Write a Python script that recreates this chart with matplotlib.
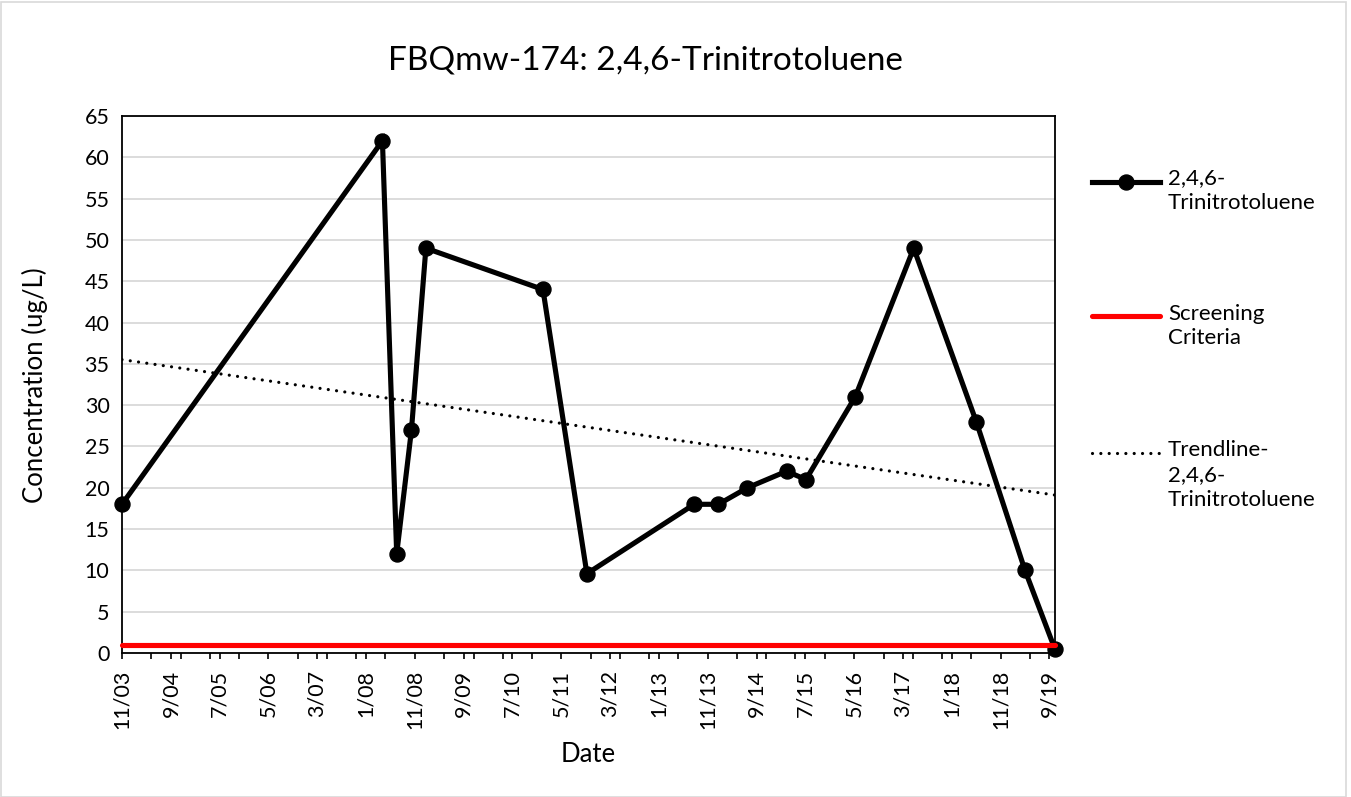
import matplotlib
matplotlib.use("Agg")
import matplotlib.pyplot as plt
import matplotlib.dates as mdates
from matplotlib.lines import Line2D
from matplotlib.patches import Rectangle
import numpy as np
import pandas as pd

plt.rcParams['font.family'] = ['Lato', 'DejaVu Sans']

# ---- data ----
dates = ["2003-11-15", "2008-04-26", "2008-07-24", "2008-10-24", "2009-01-22",
         "2011-01-22", "2011-10-23", "2013-08-22", "2014-01-20", "2014-07-20",
         "2015-03-21", "2015-07-20", "2016-05-22", "2017-05-22", "2018-06-16",
         "2019-04-16", "2019-10-20"]
values = [18, 62, 12, 27, 49, 44, 9.6, 18, 18, 20, 22, 21, 31, 49, 28, 10, 0.44]
screening_value = 1.0
series_label = "2,4,6-\nTrinitrotoluene"
screen_label = "Screening\nCriteria"
trend_label = "Trendline-\n2,4,6-\nTrinitrotoluene"
title = "FBQmw-174: 2,4,6-Trinitrotoluene"
y_ticks = list(range(0, 70, 5))

dt = pd.to_datetime(dates)
x = mdates.date2num(dt)
y = np.array(values)

W, H = 1351, 797
fig = plt.figure(figsize=(W / 100, H / 100), dpi=100)
ax = fig.add_axes([122 / W, 1 - 653 / H, (1055 - 122) / W, (653 - 116) / H])

TICK_FS = 15.5
TREND_STYLE = dict(color="black", linewidth=2.3, linestyle=(0, (0.01, 2.6)), dash_capstyle="round")

# gridlines
ax.set_ylim(0, 65)
ax.set_yticks(y_ticks)
ax.yaxis.grid(True, color="#d9d9d9", linewidth=1.3, zorder=0)
ax.set_axisbelow(True)
ax.tick_params(axis="y", length=0, labelsize=TICK_FS, pad=9)

# x axis
ax.set_xlim(x[0], x[-1])
first = dt[0]
majors = [first + pd.DateOffset(months=10 * k) for k in range(20)]
minors = [first + pd.DateOffset(months=6 * k) for k in range(33)]
minors = [m for m in minors if m <= dt[-1]]
ax.set_xticks(mdates.date2num(majors))
ax.set_xticklabels([f"{d.month}/{d.strftime('%y')}" for d in majors], rotation=90)
ax.set_xticks(mdates.date2num(minors), minor=True)
ax.tick_params(axis="x", which="major", length=4, width=1.2, direction="out", labelsize=TICK_FS, pad=8)
ax.tick_params(axis="x", which="minor", length=4, width=1.2, direction="out")

for s in ax.spines.values():
    s.set_color("black")
    s.set_linewidth(1.3)

# trendline (least squares)
coef = np.polyfit(x, y, 1)
tx = np.array([x[0], x[-1]])
ax.plot(tx, np.polyval(coef, tx), zorder=3, **TREND_STYLE)

# data series
ax.plot(x, y, color="black", linewidth=3.7, marker="o", markersize=10.8,
        zorder=4, clip_on=False, solid_joinstyle="miter")

# screening criteria
ax.plot([x[0], x[-1]], [screening_value, screening_value], color="#ff0000",
        linewidth=3.7, solid_capstyle="round", zorder=5, clip_on=False)

fig.text(645 / W, 1 - 60 / H, title, ha="center", va="center", fontsize=24)
fig.text(588 / W, 1 - 755 / H, "Date", ha="center", va="center", fontsize=18.5)
fig.text(35 / W, 1 - 385 / H, "Concentration (ug/L)", ha="center", va="center",
         rotation=90, fontsize=18.5)

# legend (manual)
entries = [
    (181.5, "series", series_label),
    (316.5, "screen", screen_label),
    (453.0, "trend", trend_label),
]
for yy, kind, lab in entries:
    fy = 1 - yy / H
    if kind == "series":
        fig.add_artist(Line2D([1092 / W, 1160 / W], [fy, fy], color="black", linewidth=3.7,
                              transform=fig.transFigure))
        fig.add_artist(Line2D([1126 / W], [fy], color="black", marker="o", markersize=10.8,
                              linestyle="none", transform=fig.transFigure))
    elif kind == "screen":
        fig.add_artist(Line2D([1092 / W, 1160 / W], [fy, fy], color="#ff0000", linewidth=3.7,
                              solid_capstyle="round", transform=fig.transFigure))
    else:
        fig.add_artist(Line2D([1092 / W, 1160 / W], [fy, fy], transform=fig.transFigure,
                              **TREND_STYLE))
    fig.text(1168 / W, fy + 13 / H, lab, ha="left", va="top", fontsize=16, linespacing=1.3)

# chart border
fig.add_artist(Rectangle((0.5 / W, 0.5 / H), 1 - 6 / W, 1 - 2 / H, transform=fig.transFigure,
                         fill=False, edgecolor="#d9d9d9", linewidth=1.2))

fig.savefig("out.png", dpi=100)
